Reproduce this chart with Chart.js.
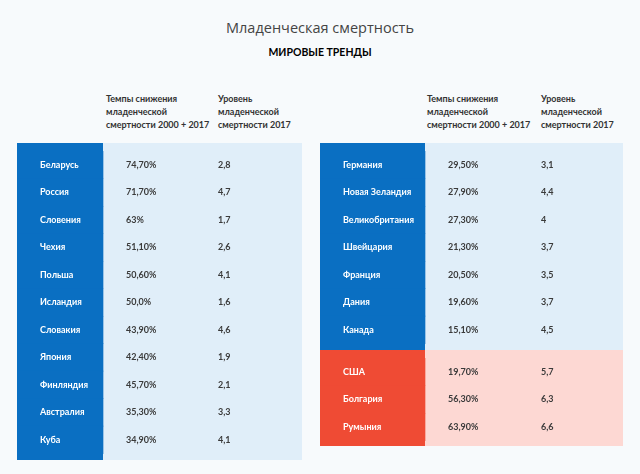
<!DOCTYPE html>
<html>
<head>
<meta charset="utf-8">
<script src="https://cdn.jsdelivr.net/npm/chart.js@4.4.1/dist/chart.umd.min.js"></script>
<style>
  body { margin: 0; width: 640px; height: 474px; background: #f7fafc; position: relative; overflow: hidden; font-family: Lato, sans-serif; }
  .title { position: absolute; left: 0; width: 640px; top: 18px; line-height: 20px; text-align: center; font-family: "Open Sans"; font-size: 14.5px; color: #444; }
  .subtitle { position: absolute; left: 0; width: 640px; top: 46px; line-height: 12px; text-align: center; font-family: Lato; font-weight: bold; font-size: 10.5px; color: #000; }
  .head { position: absolute; top: 91.5px; line-height: 13px; font-family: Lato; font-weight: bold; font-size: 9px; color: #333; white-space: nowrap; }
  canvas { position: absolute; }
</style>
</head>
<body>
<div class="title">Младенческая смертность</div>
<div class="subtitle">МИРОВЫЕ ТРЕНДЫ</div>
<div class="head" style="left:106px">Темпы снижения<br>младенческой<br>смертности 2000 + 2017</div>
<div class="head" style="left:218px">Уровень<br>младенческой<br>смертности 2017</div>
<div class="head" style="left:427px">Темпы снижения<br>младенческой<br>смертности 2000 + 2017</div>
<div class="head" style="left:541px">Уровень<br>младенческой<br>смертности 2017</div>

<canvas id="left" width="285" height="317" style="left:17px;top:143px"></canvas>
<canvas id="rightTop" width="303" height="207" style="left:320px;top:143px"></canvas>
<canvas id="rightBottom" width="303" height="96" style="left:320px;top:350px"></canvas>

<script>
// left table
const leftNames = ['Беларусь', 'Россия', 'Словения', 'Чехия', 'Польша', 'Исландия', 'Словакия', 'Япония', 'Финляндия', 'Австралия', 'Куба'];
const leftRate = ['74,70%', '71,70%', '63%', '51,10%', '50,60%', '50,0%', '43,90%', '42,40%', '45,70%', '35,30%', '34,90%'];
const leftLevel = ['2,8', '4,7', '1,7', '2,6', '4,1', '1,6', '4,6', '1,9', '2,1', '3,3', '4,1'];

// right table, blue block
const rightNames = ['Германия', 'Новая Зеландия', 'Великобритания', 'Швейцария', 'Франция', 'Дания', 'Канада'];
const rightRate = ['29,50%', '27,90%', '27,30%', '21,30%', '20,50%', '19,60%', '15,10%'];
const rightLevel = ['3,1', '4,4', '4', '3,7', '3,5', '3,7', '4,5'];

// right table, red block
const redNames = ['США', 'Болгария', 'Румыния'];
const redRate = ['19,70%', '56,30%', '63,90%'];
const redLevel = ['5,7', '6,3', '6,6'];

const blue = '#0a6fc2';
const lightBlue = '#e0eef9';
const red = '#ef4b34';
const pink = '#fdd8d3';
const cellFont = { family: 'Lato', weight: 'bold', size: 9 };

function tableChart(id, names, rates, levels, cols, dark, light, padTop, padBottom) {
    const total = cols[0] + cols[1] + cols[2];
    const cell = (from, to) => names.map((_, i) => ({ x: [from, to], y: i }));

    const cellText = {
        id: 'cellText',
        beforeDatasetsDraw(chart) {
            const { ctx, chartArea: a, scales: { x } } = chart;
            const split = x.getPixelForValue(cols[0]);
            ctx.save();
            ctx.fillStyle = dark;
            ctx.fillRect(a.left, a.top, split - a.left, a.bottom - a.top);
            ctx.fillStyle = light;
            ctx.fillRect(split, a.top, a.right - split, a.bottom - a.top);
            ctx.restore();
        },
        afterDatasetsDraw(chart) {
            const { ctx, scales: { x, y } } = chart;
            const x1 = x.getPixelForValue(cols[0]) + 23;
            const x2 = x.getPixelForValue(cols[0] + cols[1]) + 23;
            ctx.save();
            ctx.font = `${cellFont.weight} ${cellFont.size}px ${cellFont.family}`;
            ctx.fillStyle = '#3a3a3a';
            ctx.textBaseline = 'middle';
            rates.forEach((r, i) => {
                const py = y.getPixelForValue(i);
                ctx.fillText(r, x1, py);
                ctx.fillText(levels[i], x2, py);
            });
            ctx.restore();
        }
    };

    return new Chart(document.getElementById(id), {
        type: 'bar',
        data: {
            datasets: [
                { data: cell(0, cols[0]), backgroundColor: dark },
                { data: cell(cols[0], cols[0] + cols[1]), backgroundColor: light },
                { data: cell(cols[0] + cols[1], total), backgroundColor: light },
            ]
        },
        options: {
            responsive: false,
            animation: false,
            indexAxis: 'y',
            layout: { padding: 0 },
            datasets: {
                bar: { grouped: false, barPercentage: 1, categoryPercentage: 1, borderWidth: 0 }
            },
            plugins: {
                legend: { display: false },
                tooltip: { enabled: false },
            },
            scales: {
                x: {
                    type: 'linear',
                    display: false,
                    min: 0,
                    max: total,
                },
                y: {
                    type: 'linear',
                    reverse: true,
                    offset: false,
                    min: -padTop,
                    max: names.length - 1 + padBottom,
                    afterFit: (s) => {
                        // names sit inside the dark column, so the axis takes no room
                        s.width = 0;
                        s.paddingTop = 0;
                        s.paddingBottom = 0;
                    },
                    afterBuildTicks: (s) => { s.ticks = names.map((_, i) => ({ value: i })); },
                    grid: { display: false, drawTicks: false },
                    border: { display: false },
                    ticks: {
                        mirror: true,
                        padding: 23,
                        z: 1,
                        autoSkip: false,
                        color: '#ffffff',
                        font: cellFont,
                        callback: (v) => names[v],
                    },
                },
            },
        },
        plugins: [cellText]
    });
}

tableChart('left', leftNames, leftRate, leftLevel, [86, 92, 107], blue, lightBlue, 0.8, 0.73);
tableChart('rightTop', rightNames, rightRate, rightLevel, [105, 93, 105], blue, lightBlue, 0.8, 0.73);
tableChart('rightBottom', redNames, redRate, redLevel, [105, 93, 105], red, pink, 0.8, 0.69);
</script>
</body>
</html>
